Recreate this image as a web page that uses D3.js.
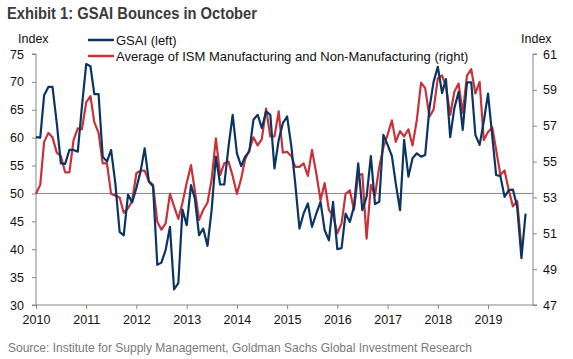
<!DOCTYPE html>
<html>
<head>
<meta charset="utf-8">
<script src="https://d3js.org/d3.v7.min.js"></script>
<style>
  body { margin: 0; background: #fff; }
  svg { font-family: "Liberation Sans", Arial, sans-serif; }
  .axis path, .axis line { stroke: #868686; }
  .axis text { fill: #111; font-size: 12.5px; }
  .line { fill: none; stroke-width: 2.2; stroke-linejoin: round; }
</style>
</head>
<body>
<div id="chart"></div>
<script>
// monthly series, Jan 2010 onwards
var gsai = [60.1, 60.0, 67.6, 69.1, 69.1, 62.6, 55.4, 55.3, 57.8, 57.8, 57.5, 65.6,
            73.2, 72.8, 67.8, 67.8, 56.6, 55.7, 57.8, 51.8, 43.1, 42.5, 49.8, 48.4,
            51.0, 54.0, 58.1, 52.1, 51.3, 37.2, 37.6, 39.9, 44.0, 32.8, 33.9, 47.1,
            44.3, 51.5, 49.1, 42.5, 43.7, 40.6, 47.0, 56.6, 51.6, 51.6, 58.4, 64.1,
            57.2, 54.9, 56.6, 57.5, 63.2, 64.1, 61.7, 64.7, 64.1, 54.5, 59.6, 62.6,
            63.8, 58.4, 51.8, 43.7, 46.4, 48.2, 44.0, 46.4, 48.5, 43.4, 41.6, 48.5,
            40.0, 40.2, 46.4, 44.9, 47.6, 55.4, 47.0, 49.4, 56.7, 48.1, 48.5, 60.5,
            58.7, 56.7, 51.8, 47.0, 59.6, 53.0, 56.3, 57.2, 56.6, 56.9, 65.3, 70.0,
            72.7, 68.0, 70.5, 60.1, 65.3, 68.2, 61.4, 69.9, 69.9, 60.5, 58.7, 62.9,
            67.9, 60.2, 53.3, 53.1, 49.4, 50.6, 50.7, 47.6, 38.4, 46.4];
var ism = [53.2, 53.7, 56.1, 56.6, 56.35, 55.5, 55.3, 54.4, 54.4, 56.2, 56.85, 56.8,
           58.3, 58.65, 57.2, 56.6, 54.9, 54.9, 53.2, 53.1, 53.0, 52.15, 52.4, 52.8,
           54.35, 54.5, 54.5, 53.9, 53.7, 51.65, 51.2, 51.55, 53.2, 52.5, 51.8, 52.7,
           53.8, 54.8, 53.4, 51.75, 52.3, 52.7, 54.0, 56.3, 54.25, 54.9, 55.0, 54.2,
           53.2, 54.05, 55.1, 55.65, 56.35, 55.9, 56.25, 57.95, 56.4, 56.4, 57.8, 55.5,
           55.55, 55.3, 54.7, 54.7, 54.9, 54.2, 55.65, 54.35, 52.85, 53.8, 52.3, 52.0,
           51.0, 51.55, 53.2, 53.4, 52.3, 54.25, 54.3, 50.7, 53.7, 53.1, 54.7, 55.8,
           56.5, 57.3, 56.1, 56.7, 56.4, 56.8, 55.9, 57.3, 59.4, 59.1, 57.5, 57.9,
           59.65, 59.8, 59.2, 57.6, 58.9, 59.35, 57.7, 59.8, 60.15, 58.8, 59.45, 56.2,
           56.65, 56.9, 55.65, 54.25, 54.5, 53.4, 52.5, 52.8, 50.2];
var leftTicks = [30, 35, 40, 45, 50, 55, 60, 65, 70, 75];
var rightTicks = [47, 49, 51, 53, 55, 57, 59, 61];
var yearTicks = [2010, 2011, 2012, 2013, 2014, 2015, 2016, 2017, 2018, 2019];
var legendLabels = ["GSAI (left)", "Average of ISM Manufacturing and Non-Manufacturing (right)"];

var width = 573, height = 359;
var svg = d3.select("#chart").append("svg")
    .attr("width", width)
    .attr("height", height);

var x = d3.scaleTime()
    .domain([new Date(2010, 0, 1), new Date(2019, 10, 24)])
    .range([36, 533]);
var yL = d3.scaleLinear().domain([30, 75]).range([305, 54]);
var yR = d3.scaleLinear().domain([47, 61]).range([305, 54]);

function month(i) { return new Date(2010, i, 1); }

// title
svg.append("text")
    .attr("x", 7).attr("y", 19)
    .attr("font-size", 17).attr("font-weight", "bold")
    .attr("fill", "#3a3a3a")
    .attr("textLength", 250).attr("lengthAdjust", "spacingAndGlyphs")
    .text("Exhibit 1: GSAI Bounces in October");

// axes
svg.append("g").attr("class", "axis")
    .attr("transform", "translate(36,0)")
    .call(d3.axisLeft(yL).tickValues(leftTicks).tickSize(4).tickPadding(8))
    .call(function(g) { g.select(".domain").attr("d", "M-4,54H0V305H-4"); });

svg.append("g").attr("class", "axis")
    .attr("transform", "translate(533,0)")
    .call(d3.axisRight(yR).tickValues(rightTicks).tickSize(4).tickPadding(6))
    .call(function(g) { g.select(".domain").attr("d", "M4,54H0V305H4"); });

svg.append("g").attr("class", "axis")
    .attr("transform", "translate(0,305)")
    .call(d3.axisBottom(x)
        .tickValues(yearTicks.map(function(y) { return new Date(y, 0, 1); }))
        .tickFormat(d3.timeFormat("%Y"))
        .tickSize(4).tickPadding(6))
    .call(function(g) {
      g.select(".domain").attr("d", "M36,0H533");
      g.selectAll("text").attr("font-size", 13);
    });

// 50 line
svg.append("line")
    .attr("x1", 36).attr("x2", 533)
    .attr("y1", yL(50)).attr("y2", yL(50))
    .attr("stroke", "#868686");

svg.append("text").attr("x", 18).attr("y", 43)
    .attr("font-size", 12.5).attr("fill", "#111").text("Index");
svg.append("text").attr("x", 521).attr("y", 43)
    .attr("font-size", 12.5).attr("fill", "#111").text("Index");

// series
svg.append("path")
    .datum(ism)
    .attr("class", "line")
    .attr("stroke", "#c8323a")
    .attr("d", d3.line().x(function(d, i) { return x(month(i)); }).y(function(d) { return yR(d); }));

svg.append("path")
    .datum(gsai)
    .attr("class", "line")
    .attr("stroke", "#0b3563")
    .attr("d", d3.line().x(function(d, i) { return x(month(i)); }).y(function(d) { return yL(d); }));

// legend
var legendColors = ["#0b3563", "#c8323a"];
var lg = svg.append("g");
legendLabels.forEach(function(t, k) {
  var ly = 40 + k * 16;
  lg.append("line").attr("x1", 88).attr("x2", 114)
    .attr("y1", ly).attr("y2", ly)
    .attr("stroke", legendColors[k]).attr("stroke-width", 2.5);
  lg.append("text").attr("x", 116).attr("y", ly + 4.5)
    .attr("font-size", 13).attr("fill", "#111").text(t);
});

// source
svg.append("text")
    .attr("x", 8).attr("y", 352)
    .attr("font-size", 13).attr("fill", "#7a7a7a")
    .attr("textLength", 464).attr("lengthAdjust", "spacingAndGlyphs")
    .text("Source: Institute for Supply Management, Goldman Sachs Global Investment Research");
</script>
</body>
</html>
